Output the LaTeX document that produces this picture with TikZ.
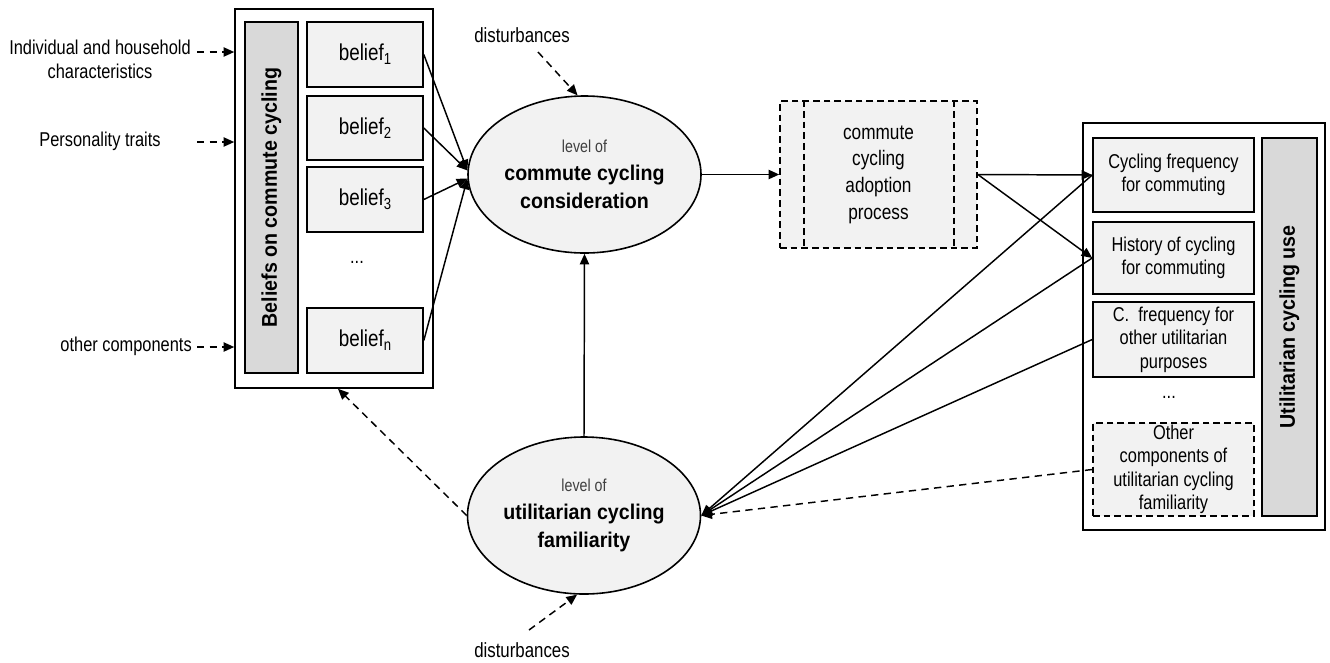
\documentclass[tikz,border=0pt]{standalone}
\usepackage{fontspec}
\setmainfont{Liberation Sans}[FakeStretch=0.82]
\newfontfamily\headface{Liberation Sans}[FakeStretch=0.92]
\usetikzlibrary{arrows.meta,shapes.geometric}
\definecolor{fillgray}{HTML}{F2F2F2}
\definecolor{bargray}{HTML}{D9D9D9}
\newlength\pxu
\setlength\pxu{0.75pt}
\newcommand\sbs[1]{\raisebox{-3.2pt}{\fontsize{12}{12}\selectfont #1}}
\begin{document}
\begin{tikzpicture}[x=0.75pt,y=-0.75pt,
  frame/.style={draw,line width=1.2pt,fill=white,inner sep=0pt},
  cell/.style={draw,line width=1.2pt,fill=fillgray,inner sep=0pt,align=center,
    minimum width=161\pxu,font=\fontsize{15}{17.6}\selectfont},
  beliefbox/.style={draw,line width=1.2pt,fill=fillgray,inner sep=0pt,
    minimum width=116\pxu,minimum height=65\pxu,font=\fontsize{17.25}{20}\selectfont},
  bar/.style={draw,line width=1.2pt,fill=bargray,inner sep=0pt,rotate=90,
    font=\headface\bfseries\fontsize{16}{19}\selectfont},
  latent/.style={ellipse,draw,line width=1.2pt,fill=fillgray,inner sep=0pt,
    minimum width=233\pxu,minimum height=157\pxu,align=center,
    font=\headface\bfseries\fontsize{16}{21}\selectfont},
  plain/.style={inner sep=0pt,align=center,font=\fontsize{15}{18}\selectfont},
  boxdash/.style={dash pattern=on 5pt off 3pt},
  link/.style={line width=1.1pt,-{Triangle[length=8pt,width=7pt]}},
  dashlink/.style={link,dash pattern=on 5.5pt off 4pt}]

\useasboundingbox (0,0) rectangle (1330,662);

% block of beliefs
\node[frame,minimum width=198\pxu,minimum height=379\pxu] (beliefs) at (334,198.5) {};
\node[bar,minimum width=351\pxu,minimum height=53\pxu] (beliefbar) at (271.5,197.5) {Beliefs on commute cycling};
\node[beliefbox] (b1) at (365,54.5) {belief\sbs{1}};
\node[beliefbox,minimum height=64\pxu] (b2) at (365,128) {belief\sbs{2}};
\node[beliefbox] (b3) at (365,199.5) {belief\sbs{3}};
\node[plain] (bdots) at (357,262) {...};
\node[beliefbox] (bn) at (365,340.5) {belief\sbs{n}};

% exogenous inputs
\node[plain] (indiv) at (100,59) {Individual and household\\characteristics};
\node[plain] (pers) at (100,141) {Personality traits};
\node[plain,anchor=east] (other) at (192,346) {other components};
\coordinate (indivtail) at (197,52);
\coordinate (perstail) at (197,142);
\coordinate (othertail) at (197,347);
\draw[dashlink] (indivtail) -- (indivtail -| beliefs.west);
\draw[dashlink] (perstail) -- (perstail -| beliefs.west);
\draw[dashlink] (othertail) -- (othertail -| beliefs.west);

% latent variables
\node[latent] (consid) at (584.5,174.5)
  {{\rmfamily\mdseries\color{black!75}\fontsize{13}{21}\selectfont level of}\\commute cycling\\consideration};
\node[latent] (famil) at (584,515.5)
  {{\rmfamily\mdseries\color{black!75}\fontsize{13}{21}\selectfont level of}\\utilitarian cycling\\familiarity};

% adoption process
\node[cell,boxdash,minimum width=197\pxu,minimum height=147\pxu,
  font=\fontsize{15.75}{20}\selectfont] (adopt) at (878.5,174.5) {commute\\cycling\\adoption\\process};
\draw[boxdash,line width=1.2pt] ([xshift=25\pxu]adopt.north west) -- ([xshift=25\pxu]adopt.south west);
\draw[boxdash,line width=1.2pt] ([xshift=-24\pxu]adopt.north east) -- ([xshift=-24\pxu]adopt.south east);

% block of utilitarian cycling use
\node[frame,minimum width=242\pxu,minimum height=407\pxu] (usage) at (1204,326.5) {};
\node[cell,minimum height=74\pxu] (r1) at (1173.5,175) {Cycling frequency\\for commuting};
\node[cell,minimum height=72\pxu] (r2) at (1173.5,258) {History of cycling\\for commuting};
\node[cell,minimum height=75\pxu] (r3) at (1173.5,339.5) {C.~ frequency for\\other utilitarian\\purposes};
\node[plain] (rdots) at (1169,397) {...};
\node[cell,boxdash,minimum height=93\pxu] (r4) at (1173.5,469.5) {Other\\components of\\utilitarian cycling\\familiarity};
\node[bar,minimum width=378\pxu,minimum height=55\pxu] (usebar) at (1289.5,327) {Utilitarian cycling use};

% disturbances
\node[plain,font=\fontsize{15.4}{18}\selectfont] (dist1) at (522,35.5) {disturbances};
\node[plain,font=\fontsize{15.4}{18}\selectfont] (dist2) at (522,650.5) {disturbances};
\coordinate (dist1tail) at (538,52);
\coordinate (dist2tail) at (529,630);
\draw[dashlink] (dist1tail) -- (consid.95);
\draw[dashlink] (dist2tail) -- (famil.265);

% structural relations
\foreach \b in {b1,b2} \draw[link] (\b.east) -- (consid.178);
\foreach \b in {b3,bn} \draw[link] (\b.east) -- (consid.182);
\draw[link] (famil.north) -- (consid.south);
\draw[link] (consid.east) -- (adopt.west);
\draw[link] (adopt.east) -- (r1.west);
\draw[link] (adopt.east) -- (r2.west);
\foreach \r in {r1,r2,r3} \draw[link] (\r.west) -- (famil.east);
\draw[dashlink] (r4.west) -- (famil.east);
\draw[dashlink] (famil.west) -- ([xshift=4\pxu]beliefs.south);
\end{tikzpicture}
\end{document}
